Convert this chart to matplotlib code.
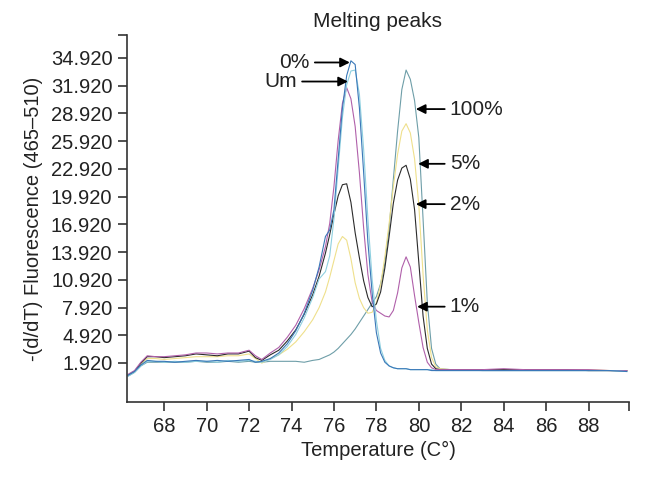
import matplotlib
matplotlib.use("Agg")
import matplotlib.pyplot as plt

plt.rcParams["font.family"] = ["Liberation Sans", "DejaVu Sans"]

# Temperature grid (deg C) shared by all curves
temps = [66.3, 66.6, 66.9, 67.2, 67.6, 68.0, 68.5, 69.0, 69.5, 70.0,
         70.5, 71.0, 71.5, 72.0, 72.3, 72.6, 73.0, 73.4, 73.8, 74.2,
         74.6, 75.0, 75.3, 75.6, 75.8, 76.0, 76.2, 76.4, 76.6, 76.8,
         77.0, 77.2, 77.4, 77.6, 77.8, 78.0, 78.2, 78.4, 78.6, 78.8,
         79.0, 79.2, 79.4, 79.6, 79.8, 80.0, 80.2, 80.4, 80.6, 80.8,
         81.0, 81.5, 82.0, 83.0, 84.0, 85.0, 86.0, 87.0, 88.0, 89.0, 89.8]

# -(d/dT) fluorescence for each sample
zero_pct = [0.6, 1.0, 1.7, 2.2, 2.1, 2.1, 2.0, 2.1, 2.2, 2.1,
            2.2, 2.1, 2.2, 2.3, 2.0, 2.1, 2.4, 3.0, 4.0, 5.4,
            7.3, 9.8, 12.3, 15.6, 16.3, 18.5, 24.0, 29.5, 33.0, 34.6,
            34.2, 29.5, 22.5, 15.0, 9.5, 5.2, 3.0, 2.0, 1.6, 1.4,
            1.3, 1.3, 1.3, 1.2, 1.2, 1.2, 1.2, 1.2, 1.1, 1.1,
            1.1, 1.1, 1.1, 1.1, 1.1, 1.1, 1.1, 1.1, 1.1, 1.1, 1.0]

um = [0.5, 0.9, 1.6, 2.1, 2.1, 2.0, 2.1, 2.0, 2.1, 2.1,
      2.0, 2.2, 2.1, 2.2, 2.1, 2.0, 2.3, 2.8, 3.7, 5.0,
      6.8, 9.0, 11.0, 11.8, 13.5, 17.5, 23.0, 28.5, 32.0, 33.5,
      33.6, 31.0, 25.0, 17.5, 11.0, 6.5, 3.5, 2.2, 1.6, 1.4,
      1.3, 1.3, 1.3, 1.2, 1.2, 1.2, 1.2, 1.2, 1.2, 1.1,
      1.1, 1.1, 1.1, 1.1, 1.1, 1.1, 1.1, 1.1, 1.1, 1.1, 1.0]

one_pct = [0.7, 1.1, 2.0, 2.7, 2.6, 2.6, 2.7, 2.8, 3.0, 3.0,
           2.9, 3.0, 3.0, 3.3, 2.7, 2.3, 3.0, 3.6, 4.7, 6.0,
           7.8, 10.0, 12.0, 14.5, 17.0, 21.0, 26.0, 30.0, 31.7, 30.5,
           27.5, 22.5, 16.5, 11.5, 8.5, 7.6, 7.3, 7.0, 6.9, 7.6,
           9.5, 12.2, 13.4, 12.3, 9.2, 6.3, 3.6, 2.0, 1.4, 1.2,
           1.2, 1.2, 1.2, 1.2, 1.3, 1.2, 1.2, 1.2, 1.2, 1.1, 1.1]

two_pct = [0.6, 1.0, 1.9, 2.6, 2.6, 2.5, 2.6, 2.7, 2.9, 2.8,
           2.7, 2.9, 2.9, 3.2, 2.5, 2.2, 2.8, 3.3, 4.3, 5.5,
           7.2, 9.3, 11.3, 13.8, 15.8, 18.0, 20.0, 21.2, 21.3, 19.3,
           16.0, 13.3, 10.8, 9.0, 8.0, 8.3, 9.6, 12.2, 15.6, 19.2,
           21.7, 23.0, 23.3, 21.8, 18.5, 12.8, 7.0, 3.5, 1.8, 1.3,
           1.2, 1.2, 1.2, 1.2, 1.2, 1.2, 1.2, 1.2, 1.1, 1.1, 1.1]

five_pct = [0.6, 1.0, 1.8, 2.4, 2.4, 2.3, 2.4, 2.5, 2.6, 2.6,
            2.6, 2.7, 2.7, 2.9, 2.4, 1.9, 2.4, 2.8, 3.4, 4.2,
            5.3, 6.6, 7.9, 9.6, 11.2, 13.0, 14.8, 15.6, 15.2, 13.2,
            10.6, 8.9, 7.9, 7.3, 7.4, 8.4, 10.4, 13.4, 17.0, 21.0,
            24.5, 27.0, 27.8, 26.8, 24.0, 19.0, 11.5, 5.5, 2.5, 1.5,
            1.3, 1.2, 1.2, 1.2, 1.2, 1.2, 1.2, 1.2, 1.2, 1.1, 1.1]

hundred_pct = [0.5, 0.9, 1.6, 2.0, 2.0, 2.0, 2.0, 2.0, 2.1, 2.0,
               2.0, 2.1, 2.0, 2.1, 2.0, 2.0, 2.1, 2.1, 2.1, 2.1,
               2.0, 2.2, 2.3, 2.6, 2.8, 3.1, 3.5, 4.0, 4.5, 5.0,
               5.6, 6.3, 7.0, 7.7, 8.4, 9.1, 10.5, 12.7, 16.5, 21.8,
               27.0, 31.5, 33.6, 32.6, 30.3, 26.3, 17.5, 8.5, 3.5, 1.8,
               1.3, 1.2, 1.2, 1.1, 1.1, 1.1, 1.1, 1.1, 1.1, 1.1, 1.0]

y_ticks = [1.92, 4.92, 7.92, 10.92, 13.92, 16.92, 19.92, 22.92, 25.92, 28.92, 31.92, 34.92]
y_tick_labels = ["1.920", "4.920", "7.920", "10.920", "13.920", "16.920",
                 "19.920", "22.920", "25.920", "28.920", "31.920", "34.920"]
x_ticks = [68, 70, 72, 74, 76, 78, 80, 82, 84, 86, 88]

fig = plt.figure(figsize=(6.45, 4.83), dpi=100)
ax = fig.add_axes([0.197, 0.1677, 0.778, 0.76])

# Curves
ax.plot(temps, hundred_pct, color="#6e9ea8", lw=0.8)
ax.plot(temps, five_pct, color="#efe08c", lw=0.8)
ax.plot(temps, two_pct, color="#2b2b2b", lw=0.8)
ax.plot(temps, one_pct, color="#b060aa", lw=0.8)
ax.plot(temps, um, color="#8fd0e0", lw=0.8)
ax.plot(temps, zero_pct, color="#3a78b8", lw=0.8)

xmin, xmax = 66.25, 89.9
ymin, ymax = -2.3, 37.4
ax.set_xlim(xmin, xmax)
ax.set_ylim(ymin, ymax)

ax.set_xticks(x_ticks + [xmax])
ax.set_xticklabels([str(t) for t in x_ticks] + [""])
ax.set_yticks(y_ticks + [ymax])
ax.set_yticklabels(y_tick_labels + [""])

for side in ["top", "right"]:
    ax.spines[side].set_visible(False)
for side in ["left", "bottom"]:
    ax.spines[side].set_color("#333333")
    ax.spines[side].set_linewidth(1.2)
ax.tick_params(direction="out", length=6.5, width=1.2, colors="#333333",
               labelcolor="#222222", labelsize=14.5, pad=4)

ax.set_title("Melting peaks", fontsize=15, color="#222222", pad=5.5)
ax.set_xlabel("Temperature (C°)", fontsize=14.5, color="#222222", labelpad=4)
ax.set_ylabel("-(d/dT) Fluorescence (465–510)", fontsize=14.5, color="#222222", labelpad=6)

# Arrow labels
arrow = dict(arrowstyle="-|>", color="black", lw=1.3, mutation_scale=14, shrinkA=0, shrinkB=0)
ax.annotate("", xy=(76.75, 34.42), xytext=(75.1, 34.42), arrowprops=arrow)
ax.text(74.87, 34.42, "0%", ha="right", va="center", fontsize=15, color="#222222")
ax.annotate("", xy=(76.66, 32.36), xytext=(74.5, 32.36), arrowprops=arrow)
ax.text(74.26, 32.36, "Um", ha="right", va="center", fontsize=15, color="#222222")

right_labels = ["100%", "5%", "2%", "1%"]
right_tips = [(79.86, 29.38), (79.97, 23.46), (79.86, 19.1), (79.92, 8.01)]
for lab, (tx, ty) in zip(right_labels, right_tips):
    ax.annotate("", xy=(tx, ty), xytext=(81.22, ty), arrowprops=arrow)
    ax.text(81.46, ty, lab, ha="left", va="center", fontsize=15, color="#222222")

fig.savefig("out.png", dpi=100)
